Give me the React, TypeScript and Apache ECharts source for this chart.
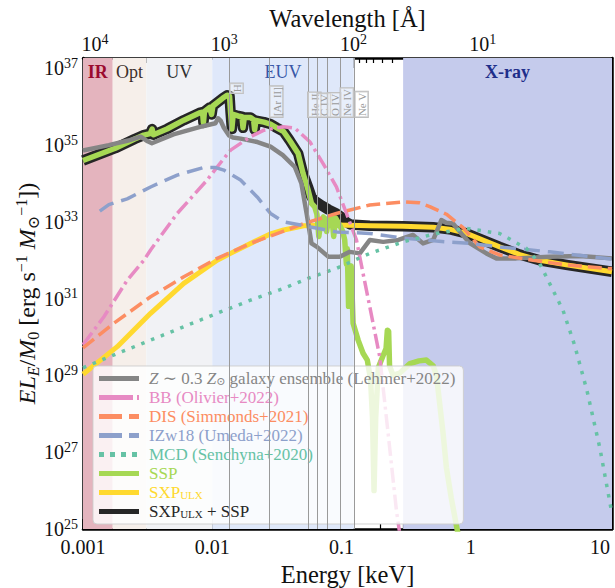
import React, { useEffect, useRef } from "react";
import * as echarts from "echarts";

const FONT = "Liberation Serif, DejaVu Serif, serif";

// axes work in log10 space: x = log10(E / keV), y = log10(E L_E / M0)
const LOG_E_MIN = -3;
const LOG_E_MAX = Math.log10(12.398);
const LOG_L_MIN = 25;
const LOG_L_MAX = 37.27;

const energyTickValues = [-3, -2, -1, 0, 1];
const energyTickLabels = ["0.001", "0.01", "0.1", "1", "10"];
const wavelengthMajor = [10000, 1000, 100, 10]; // Angstrom
const wavelengthExponents = ["4", "3", "2", "1"];
const lumTickExponents = [25, 27, 29, 31, 33, 35, 37];

// shaded bands (log10 keV)
const regionNames = ["IR", "Opt", "UV", "EUV", "X-ray"];
const regionStarts = [-3, -2.77, -2.51, -2.0, -0.523];
const regionEnds = [-2.77, -2.51, -2.0, -0.905, LOG_E_MAX];
const regionColors = ["#e4b4be", "#f6efea", "#f1f2f5", "#dfe8fa", "#c5cbec"];
const regionLabelColors = ["#9b0a2e", "#3d302a", "#2e2e2e", "#3756a6", "#1f2e8a"];
const regionLabelWeights = ["bold", "normal", "normal", "normal", "bold"];

// ionisation edges
const edgeNames = ["H", "[Ar II]", "He II", "C IV", "O IV", "Ne IV", "Ne V"];
const edgeEnergiesEV = [13.6, 27.63, 54.42, 64.49, 77.41, 97.19, 126.21];
const edgeLabelBaseLogL = [36.35, 35.73, 35.73, 35.73, 35.73, 35.73, 35.73];

// curves: [log10 E(keV), log10 L]
const galaxyEnsemble = [
  [-3.0, 34.86], [-2.8, 35.0], [-2.65, 35.12], [-2.554, 35.22], [-2.5, 35.1], [-2.467, 35.05],
  [-2.3, 35.28], [-2.1, 35.47], [-2.0, 35.55], [-1.975, 35.57], [-1.955, 35.7], [-1.935, 35.64],
  [-1.91, 35.45], [-1.87, 35.25], [-1.84, 35.2], [-1.78, 35.17], [-1.65, 35.08], [-1.549, 34.96],
  [-1.454, 34.74], [-1.361, 34.43], [-1.31, 34.0], [-1.27, 33.23], [-1.232, 32.44], [-1.19, 32.35],
  [-1.1, 32.09], [-1.013, 32.09], [-0.936, 32.22], [-0.858, 32.18], [-0.78, 32.53], [-0.677, 32.48],
  [-0.56, 32.53], [-0.446, 32.66], [-0.369, 32.44], [-0.29, 32.53], [-0.227, 33.05], [-0.19, 32.98],
  [-0.137, 32.96], [-0.06, 32.65], [-0.008, 32.45], [0.121, 32.18], [0.199, 32.05], [0.353, 32.05],
  [0.611, 32.09], [0.843, 32.11], [1.093, 32.05],
];

const blackbody = [
  [-3.0, 29.8], [-2.838, 30.53], [-2.658, 31.48], [-2.529, 32.0], [-2.477, 32.27], [-2.271, 33.22],
  [-2.04, 34.09], [-1.962, 34.43], [-1.858, 34.87], [-1.704, 35.22], [-1.6, 35.39], [-1.45, 35.48],
  [-1.36, 35.44], [-1.245, 35.09], [-1.142, 34.52], [-1.039, 33.91], [-0.961, 33.22], [-0.884, 32.53],
  [-0.833, 31.66], [-0.781, 30.79], [-0.704, 29.49], [-0.639, 27.49], [-0.575, 25.49], [-0.55, 24.9],
];

const diskDIS = [
  [-3.0, 29.72], [-2.761, 30.36], [-2.477, 31.05], [-2.22, 31.57], [-1.962, 32.05], [-1.704, 32.44],
  [-1.447, 32.76], [-1.297, 32.95], [-1.039, 33.22], [-0.781, 33.44], [-0.523, 33.52], [-0.4, 33.5],
  [-0.317, 33.4], [-0.188, 33.2], [-0.059, 32.85], [0.07, 32.35], [0.224, 32.14], [0.482, 32.0],
  [0.74, 31.88], [1.093, 31.78],
];

const izw18 = [
  [-2.87, 33.28], [-2.8, 33.45], [-2.658, 33.6], [-2.477, 33.91], [-2.271, 34.22], [-2.065, 34.42],
  [-1.98, 34.42], [-1.91, 34.35], [-1.781, 34.09], [-1.652, 33.65], [-1.549, 33.22], [-1.447, 33.0],
  [-1.317, 32.92], [-1.039, 32.74], [-0.781, 32.7], [-0.523, 32.58], [-0.265, 32.5], [-0.008, 32.44],
  [0.224, 32.35], [0.611, 32.22], [1.093, 32.03],
];

const mcd = [
  [-3.0, 29.2], [-2.735, 29.57], [-2.477, 29.92], [-2.22, 30.27], [-1.962, 30.62], [-1.704, 30.96],
  [-1.447, 31.27], [-1.258, 31.53], [-1.039, 31.79], [-0.781, 32.18], [-0.523, 32.48], [-0.265, 32.7],
  [-0.033, 32.83], [0.224, 32.7], [0.431, 32.31], [0.533, 31.92], [0.637, 31.22], [0.714, 30.7],
  [0.804, 29.79], [0.9, 28.6], [1.0, 27.1], [1.093, 25.4],
];

const ssp = [
  [-3.0, 34.6], [-2.75, 34.92], [-2.6, 35.16], [-2.53, 35.26], [-2.48, 35.3], [-2.465, 35.42],
  [-2.455, 35.27], [-2.35, 35.42], [-2.22, 35.65], [-2.1, 35.84], [-2.075, 35.86], [-2.068, 35.58],
  [-2.06, 35.88], [-2.02, 35.98], [-2.005, 35.8], [-1.995, 36.02], [-1.95, 36.14], [-1.92, 36.22],
  [-1.885, 36.3], [-1.866, 36.28], [-1.858, 35.85], [-1.848, 35.42], [-1.838, 35.8], [-1.8, 35.76],
  [-1.77, 35.74], [-1.762, 35.45], [-1.752, 35.72], [-1.704, 35.72], [-1.68, 35.66], [-1.672, 35.4],
  [-1.662, 35.64], [-1.6, 35.6], [-1.55, 35.55], [-1.5, 35.45], [-1.447, 35.35], [-1.4, 35.12],
  [-1.335, 34.78], [-1.297, 34.26], [-1.258, 33.83], [-1.232, 33.48], [-1.207, 33.39], [-1.19, 33.2],
  [-1.175, 32.62], [-1.16, 33.0], [-1.14, 33.13], [-1.115, 32.75], [-1.1, 33.1], [-1.075, 33.13],
  [-1.06, 32.62], [-1.045, 33.1], [-1.02, 32.95], [-0.99, 32.75], [-0.975, 32.53], [-0.962, 31.9],
  [-0.955, 32.3], [-0.945, 30.8], [-0.935, 31.7], [-0.925, 31.85], [-0.91, 30.36], [-0.871, 29.92],
  [-0.833, 29.58], [-0.8, 29.4], [-0.775, 28.9], [-0.76, 27.9], [-0.748, 26.0], [-0.735, 27.9],
  [-0.715, 29.2], [-0.68, 29.5], [-0.655, 29.7], [-0.645, 30.18], [-0.635, 30.15], [-0.628, 29.25],
  [-0.6, 29.0], [-0.55, 29.06], [-0.47, 29.31], [-0.4, 29.38], [-0.343, 29.4], [-0.29, 29.25],
  [-0.265, 29.0], [-0.214, 27.5], [-0.188, 26.6], [-0.15, 25.8], [-0.111, 25.1], [-0.1, 24.9],
];

const sxpUlx = [
  [-3.0, 29.03], [-2.735, 29.75], [-2.477, 30.62], [-2.22, 31.4], [-1.962, 32.0], [-1.858, 32.18],
  [-1.704, 32.44], [-1.555, 32.68], [-1.447, 32.79], [-1.292, 32.9], [-1.039, 32.92], [-0.781, 32.9],
  [-0.523, 32.89], [-0.29, 32.86], [-0.15, 32.8], [-0.033, 32.7], [0.1, 32.52], [0.224, 32.35],
  [0.38, 32.15], [0.533, 32.0], [0.74, 31.88], [1.093, 31.7],
];

const sxpPlusSsp = [
  [-3.0, 34.6], [-2.75, 34.92], [-2.6, 35.16], [-2.53, 35.26], [-2.48, 35.3], [-2.465, 35.42],
  [-2.455, 35.27], [-2.35, 35.42], [-2.22, 35.65], [-2.1, 35.84], [-2.075, 35.86], [-2.068, 35.58],
  [-2.06, 35.88], [-2.02, 35.98], [-2.005, 35.8], [-1.995, 36.02], [-1.95, 36.14], [-1.92, 36.22],
  [-1.885, 36.3], [-1.866, 36.28], [-1.858, 35.85], [-1.848, 35.42], [-1.838, 35.8], [-1.8, 35.76],
  [-1.77, 35.74], [-1.762, 35.45], [-1.752, 35.72], [-1.704, 35.72], [-1.68, 35.66], [-1.672, 35.4],
  [-1.662, 35.64], [-1.6, 35.6], [-1.55, 35.55], [-1.5, 35.45], [-1.447, 35.35], [-1.4, 35.12],
  [-1.335, 34.78], [-1.297, 34.26], [-1.258, 33.9], [-1.232, 33.65], [-1.207, 33.55], [-1.15, 33.42],
  [-1.1, 33.32], [-1.04, 33.22], [-0.99, 33.1], [-0.965, 33.0], [-0.93, 32.93], [-0.781, 32.9],
  [-0.523, 32.89], [-0.29, 32.86], [-0.15, 32.8], [-0.033, 32.7], [0.1, 32.52], [0.224, 32.35],
  [0.38, 32.15], [0.533, 32.0], [0.74, 31.88], [1.093, 31.7],
];

const seriesNames = ["gal", "bb", "dis", "izw", "mcd", "ssp", "sxp", "tot"];
const seriesLabels = [
  "{i|Z} ∼ 0.3 {i|Z}{o|⊙} galaxy ensemble (Lehmer+2022)",
  "BB (Olivier+2022)",
  "DIS (Simmonds+2021)",
  "IZw18 (Umeda+2022)",
  "MCD (Senchyna+2020)",
  "SSP",
  "SXP{u|ULX}",
  "SXP{u|ULX} + SSP",
];
const seriesColors = ["#858585", "#e78ac3", "#fc8d62", "#8da0cb", "#66c2a5", "#a6d854", "#ffd92f", "#262626"];

export default function App() {
  const ref = useRef<HTMLDivElement>(null);

  useEffect(() => {
    if (!ref.current) return;
    const chart = echarts.init(ref.current, null, { renderer: "svg" });

    const minorE: number[] = [];
    for (let n = -3; n <= 0; n++) for (let k = 2; k <= 9; k++) minorE.push(Math.log10(k * Math.pow(10, n)));
    const lamToLogE = (lam: number) => Math.log10(12.398 / lam);
    const majorLam = wavelengthMajor.map(lamToLogE);
    const minorLam: number[] = [];
    for (let n = 0; n <= 3; n++)
      for (let k = 2; k <= 9; k++) {
        const v = lamToLogE(k * Math.pow(10, n));
        if (v >= LOG_E_MIN && v <= LOG_E_MAX) minorLam.push(v);
      }

    const axisLineStyle = { color: "#000", width: 2.5 };
    const majorTick = (vals: number[]) => ({
      show: true, inside: true, length: 10, lineStyle: { color: "#000", width: 1.5 }, customValues: vals,
    });
    const minorTick = (vals: number[]) => ({
      show: true, inside: true, length: 5, lineStyle: { color: "#000", width: 1.2 }, customValues: vals,
    });

    const line = (name: string, data: number[][], color: string, width: number, type: any) => ({
      type: "line",
      name,
      data,
      symbol: "none",
      showSymbol: false,
      silent: true,
      z: 2,
      clip: true,
      itemStyle: { color },
      lineStyle: { color, width, type, cap: "butt", join: "round" },
      emphasis: { disabled: true },
    });

    const legendDash: any = {
      gal: "solid",
      bb: [34, 4, 3, 4],
      dis: [23, 7],
      izw: [23, 7],
      mcd: [5, 6],
      ssp: "solid",
      sxp: "solid",
      tot: "solid",
    };

    const xAxisBase = (position: string) => ({
      type: "value",
      position,
      min: LOG_E_MIN,
      max: LOG_E_MAX,
      axisLabel: { show: false },
      splitLine: { show: false },
    });
    const yAxisBase = (position: string) => ({
      type: "value",
      position,
      min: LOG_L_MIN,
      max: LOG_L_MAX,
      axisLabel: { show: false },
      splitLine: { show: false },
      axisLine: { show: true, onZero: false, lineStyle: axisLineStyle },
      axisTick: majorTick(lumTickExponents),
    });

    const option: any = {
      animation: false,
      backgroundColor: "#fff",
      textStyle: { fontFamily: FONT },
      grid: { left: 83, right: 3, top: 58, bottom: 59, containLabel: false },
      xAxis: [
        { ...xAxisBase("bottom"), axisLine: { show: true, onZero: false, lineStyle: axisLineStyle }, axisTick: majorTick(energyTickValues) },
        { ...xAxisBase("bottom"), axisLine: { show: false, onZero: false }, axisTick: minorTick(minorE) },
        { ...xAxisBase("top"), axisLine: { show: true, onZero: false, lineStyle: axisLineStyle }, axisTick: majorTick(majorLam) },
        { ...xAxisBase("top"), axisLine: { show: false, onZero: false }, axisTick: minorTick(minorLam) },
      ],
      yAxis: [
        {
          ...yAxisBase("left"),
          name: "{i|EL}{si|E}{r|/}{i|M}{sb|0}{r| [erg s}{sp|−1}{r| }{i|M}{sb|⊙}{sp|−1}{r|])}",
          nameLocation: "middle",
          nameRotate: 90,
          nameGap: 42,
          nameTextStyle: {
            fontFamily: FONT,
            fontSize: 24,
            color: "#111",
            rich: {
              i: { fontStyle: "italic", fontSize: 24, lineHeight: 28, fontFamily: FONT, color: "#111" },
              r: { fontSize: 24, lineHeight: 28, fontFamily: FONT, color: "#111" },
              si: { fontStyle: "italic", fontSize: 16, lineHeight: 15, verticalAlign: "bottom", fontFamily: FONT, color: "#111" },
              sb: { fontSize: 16, lineHeight: 15, verticalAlign: "bottom", fontFamily: FONT, color: "#111" },
              sp: { fontSize: 16, lineHeight: 15, verticalAlign: "top", fontFamily: FONT, color: "#111" },
            },
          },
        },
        yAxisBase("right"),
      ],
      legend: {
        orient: "vertical",
        left: 93,
        top: 366,
        itemWidth: 40,
        itemHeight: 5,
        itemGap: 2,
        padding: [4, 8, 4, 3.5],
        backgroundColor: "rgba(255,255,255,0.8)",
        borderColor: "rgba(205,205,205,0.9)",
        borderWidth: 1,
        borderRadius: 4,
        selectedMode: false,
        formatter: (name: string) => seriesLabels[seriesNames.indexOf(name)],
        textStyle: {
          fontFamily: FONT,
          fontSize: 17,
          lineHeight: 16,
          padding: [0, 0, 0, 5],
          rich: {
            i: { fontStyle: "italic", fontSize: 17, lineHeight: 16, fontFamily: FONT },
            o: { fontSize: 11, lineHeight: 11, verticalAlign: "bottom", fontFamily: FONT },
            u: { fontSize: 11, lineHeight: 11, verticalAlign: "bottom", fontFamily: FONT },
          },
        },
        data: seriesNames.map((n, i) => ({
          name: n,
          textStyle: { color: seriesColors[i] },
          lineStyle: { width: 5, type: legendDash[n] },
          itemStyle: { color: "rgba(0,0,0,0)", borderWidth: 0, opacity: 0 },
        })),
      },
      series: [
        {
          type: "line",
          data: [],
          z: 1,
          silent: true,
          markArea: {
            silent: true,
            label: { show: true, position: "insideTop", distance: 4 },
            data: regionNames.map((n, i) => [
              {
                name: n,
                xAxis: regionStarts[i],
                itemStyle: { color: regionColors[i] },
                label: {
                  show: true,
                  position: "insideTop",
                  distance: 4,
                  formatter: "{t|{b}}",
                  rich: {
                    t: {
                      fontFamily: FONT,
                      fontSize: 18,
                      lineHeight: 20,
                      color: regionLabelColors[i],
                      fontWeight: regionLabelWeights[i],
                    },
                  },
                },
              },
              { xAxis: regionEnds[i] },
            ]),
          },
        },
        {
          type: "line",
          data: [],
          z: 1,
          silent: true,
          markLine: {
            silent: true,
            symbol: ["none", "none"],
            label: { show: false },
            lineStyle: { color: "#9a9a9a", width: 1, type: "solid" },
            emphasis: { disabled: true },
            data: edgeEnergiesEV.map((e) => ({ xAxis: Math.log10(e / 1000) })),
          },
        },
        line("tot", sxpPlusSsp, seriesColors[7], 10.5, "solid"),
        line("sxp", sxpUlx, seriesColors[6], 5, "solid"),
        line("ssp", ssp, seriesColors[5], 5.5, "solid"),
        line("gal", galaxyEnsemble, seriesColors[0], 4.5, "solid"),
        line("bb", blackbody, seriesColors[1], 3.5, [15, 4.5, 3, 4.5]),
        line("dis", diskDIS, seriesColors[2], 3.5, [14, 6]),
        line("izw", izw18, seriesColors[3], 3.5, [16, 8]),
        line("mcd", mcd, seriesColors[4], 3.5, [3.5, 7]),
      ],
    };

    chart.setOption(option);

    const toPx = (x: number, y: number) =>
      chart.convertToPixel({ xAxisIndex: 0, yAxisIndex: 0 } as any, [x, y]) as number[];
    const [pL, pB] = toPx(LOG_E_MIN, LOG_L_MIN);
    const [pR, pT] = toPx(LOG_E_MAX, LOG_L_MAX);
    const cx = (pL + pR) / 2;

    const richText = {
      b: { fontSize: 20, lineHeight: 24, fontFamily: FONT, fill: "#111" },
      s: { fontSize: 14, lineHeight: 14, verticalAlign: "top", fontFamily: FONT, fill: "#111" },
      t: { fontSize: 24.5, lineHeight: 26, fontFamily: FONT, fill: "#111" },
      e: { fontSize: 11, lineHeight: 12, fontFamily: FONT, fill: "#9a9a9a" },
    };

    const graphics: any[] = [];
    const txt = (x: number, y: number, text: string, align: string, verticalAlign: string, extra: any = {}) =>
      graphics.push({
        type: "text",
        silent: true,
        z: 10,
        x,
        y,
        ...extra,
        style: { text, rich: richText, align, verticalAlign, fontFamily: FONT, ...(extra.style || {}) },
      });

    // bottom tick labels (energy)
    energyTickValues.forEach((v, i) => txt(toPx(v, LOG_L_MIN)[0], pB + 6, `{b|${energyTickLabels[i]}}`, "center", "top"));
    // top tick labels (wavelength)
    majorLam.forEach((v, i) => txt(toPx(v, LOG_L_MAX)[0], pT - 2, `{b|10}{s|${wavelengthExponents[i]}}`, "center", "bottom"));
    // left tick labels (luminosity)
    lumTickExponents.forEach((v) => txt(pL - 5, toPx(LOG_E_MIN, v)[1], `{b|10}{s|${v}}`, "right", "middle"));
    // axis titles
    txt(cx, pB + 32, "{t|Energy [keV]}", "center", "top");
    txt(cx, pT - 27, "{t|Wavelength [Å]}", "center", "bottom");
    // ionisation edge labels
    edgeNames.forEach((name, i) => {
      const p = toPx(Math.log10(edgeEnergiesEV[i] / 1000), edgeLabelBaseLogL[i]);
      txt(p[0] + 0.5, p[1], `{e|${name}}`, "left", "top", {
        rotation: Math.PI / 2,
        style: {
          backgroundColor: "rgba(255,255,255,0.3)",
          borderColor: "#bdbdbd",
          borderWidth: 0.8,
          padding: [1, 1, 0, 1],
        },
      });
    });
    chart.setOption({ graphic: graphics });

    return () => chart.dispose();
  }, []);

  return (
    <div
      ref={ref}
      style={{ position: "fixed", left: 0, top: 0, width: 615, height: 588, background: "#fff" }}
    />
  );
}
